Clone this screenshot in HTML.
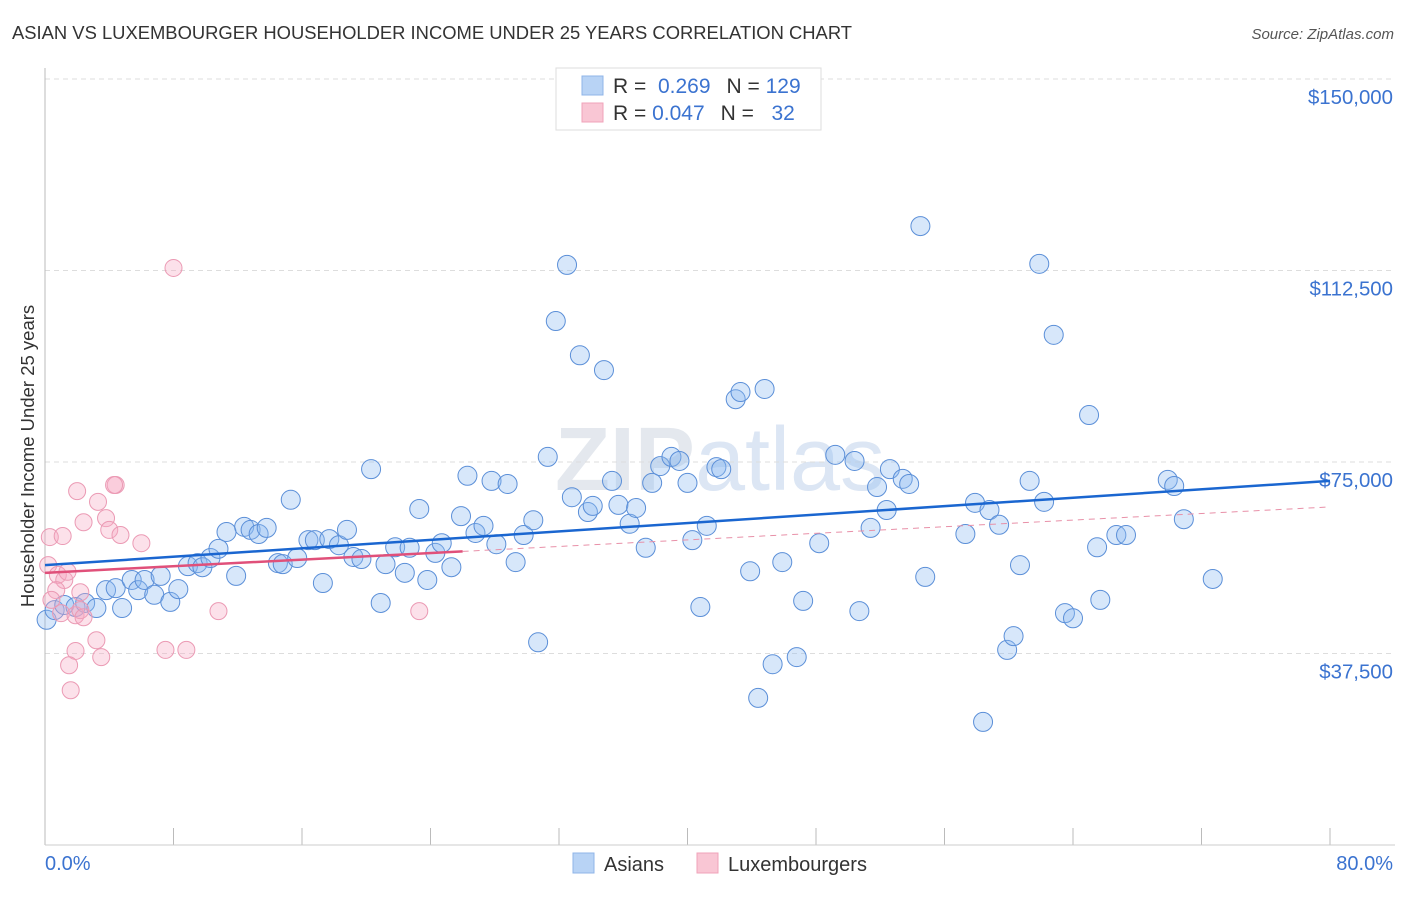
<!DOCTYPE html>
<html><head><meta charset="utf-8"><style>
body{margin:0;background:#fff;font-family:"Liberation Sans",sans-serif}
svg text{font-family:"Liberation Sans",sans-serif}
</style></head><body>
<svg id="chart" width="1406" height="892">
<text x="12" y="39" font-size="18.4" fill="#333">ASIAN VS LUXEMBOURGER HOUSEHOLDER INCOME UNDER 25 YEARS CORRELATION CHART</text>
<text x="1394" y="39" font-size="15" fill="#555" font-style="italic" text-anchor="end">Source: ZipAtlas.com</text>
<text x="720" y="490" font-size="90" fill="#e4e8ee" text-anchor="middle" font-weight="bold">ZIP<tspan font-weight="normal" fill="#dce6f4">atlas</tspan></text>
<g id="grid"></g>
<line x1="45" y1="68" x2="45" y2="845" stroke="#bbb"/>
<line x1="45" y1="845" x2="1395" y2="845" stroke="#ccc"/>
<text transform="translate(34,456) rotate(-90)" font-size="18.5" fill="#333" text-anchor="middle">Householder Income Under 25 years</text>
<text x="45" y="870" font-size="20" fill="#3b73d0">0.0%</text>
<text x="1393" y="870" font-size="20" fill="#3b73d0" text-anchor="end">80.0%</text>
<g id="marks"></g>
<g>
<rect x="556" y="68" width="265" height="62" fill="#fff" stroke="#ddd"/>
<rect x="582" y="76" width="21" height="19" fill="#b8d3f5" stroke="#8fb4e8"/>
<rect x="582" y="103" width="21" height="19" fill="#f9c6d4" stroke="#f0a3ba"/>
<text x="613" y="93" font-size="21" fill="#333">R = <tspan fill="#3b73d0">&#160;0.269</tspan><tspan dx="16">N = </tspan><tspan fill="#3b73d0">129</tspan></text>
<text x="613" y="120" font-size="21" fill="#333">R = <tspan fill="#3b73d0">0.047</tspan><tspan dx="16">N = </tspan><tspan fill="#3b73d0">&#160;&#160;32</tspan></text>
</g>
<g>
<rect x="573" y="853" width="21" height="20" fill="#b8d3f5" stroke="#8fb4e8"/>
<text x="604" y="871" font-size="20" fill="#333">Asians</text>
<rect x="697" y="853" width="21" height="20" fill="#f9c6d4" stroke="#f0a3ba"/>
<text x="728" y="871" font-size="20" fill="#333">Luxembourgers</text>
</g>
</svg>
<script>
const yTicks=[150000,112500,75000,37500];
const yTickLabels=["$150,000","$112,500","$75,000","$37,500"];
const xTicks=[0,8,16,24,32,40,48,56,64,72,80];
const asianX=[0.1,0.6,1.2,1.9,2.5,3.2,3.8,4.4,4.8,5.4,5.8,6.2,6.8,7.2,7.8,8.3,8.9,9.5,9.8,10.3,10.8,11.3,11.9,12.4,12.8,13.3,13.8,14.5,14.8,15.3,15.7,16.4,16.8,17.3,17.7,18.3,18.8,19.2,19.7,20.3,20.9,21.2,21.8,22.4,22.7,23.3,23.8,24.3,24.7,25.3,25.9,26.3,26.8,27.3,27.8,28.1,28.8,29.3,29.8,30.4,30.7,31.3,31.8,32.5,32.8,33.3,33.8,34.1,34.8,35.3,35.7,36.4,36.8,37.4,37.8,38.3,39.0,39.5,40.0,40.3,40.8,41.2,41.8,42.1,43.0,43.3,43.9,44.4,44.8,45.3,45.9,46.8,47.2,48.2,49.2,50.4,50.7,51.4,51.8,52.4,52.6,53.4,53.8,54.5,54.8,57.3,57.9,58.4,58.8,59.4,59.9,60.3,60.7,61.3,61.9,62.2,62.8,63.5,64.0,65.0,65.5,65.7,66.7,67.3,69.9,70.3,70.9,72.7];
const asianY=[44.1,46.0,47.0,46.6,47.4,46.4,49.9,50.3,46.4,51.9,49.9,51.9,49.0,52.7,47.6,50.1,54.6,55.2,54.4,56.2,58.0,61.3,52.7,62.3,61.7,60.9,62.1,55.2,55.0,67.6,56.2,59.7,59.7,51.3,59.9,58.7,61.7,56.4,56.0,73.6,47.4,55.0,58.3,53.3,58.2,65.8,51.9,57.2,59.1,54.4,64.4,72.3,61.1,62.5,71.3,58.9,70.7,55.4,60.7,63.6,39.7,76.0,102.6,113.6,68.1,95.9,65.2,66.4,93.0,71.3,66.6,62.9,66.0,58.2,70.9,74.2,76.0,75.2,70.9,59.7,46.6,62.5,74.0,73.6,87.3,88.7,53.6,28.8,89.3,35.4,55.4,36.8,47.8,59.1,76.4,75.2,45.8,62.1,70.1,65.6,73.6,71.7,70.7,121.2,52.5,60.9,67.0,24.1,65.6,62.7,38.2,40.9,54.8,71.3,113.8,67.2,99.9,45.4,44.4,84.2,58.3,48.0,60.7,60.7,71.5,70.3,63.8,52.1];
const luxX=[0.3,1.1,2.0,3.3,3.8,2.4,4.0,4.4,4.7,6.0,8.0,10.8,23.3,7.5,8.8,3.2,1.9,1.5,1.6,3.5,0.2,0.8,1.2,1.4,0.7,0.4,2.2,1.0,1.9,2.2,2.4,4.3];
const luxY=[60.3,60.5,69.3,67.2,64.0,63.2,61.7,70.5,60.7,59.1,113.0,45.8,45.8,38.2,38.2,40.1,38.0,35.2,30.3,36.8,54.8,52.9,51.9,53.5,49.9,48.0,49.5,45.4,45.0,46.0,44.6,70.5];
const asianTrend=[54.8,71.3];
const luxTrend=[53.3,66.2];
const luxSolidEnd=26;
const NS="http://www.w3.org/2000/svg";
const xs=v=>45+(v/80)*1285;
const ys=v=>845-(v/37.5)*191.5;
const ysD=v=>ys(v/1000);
function mk(tag,attrs,parent){const e=document.createElementNS(NS,tag);for(const k in attrs)e.setAttribute(k,attrs[k]);parent.appendChild(e);return e;}
const grid=document.getElementById('grid'),marks=document.getElementById('marks');
yTicks.forEach((t,i)=>{
 const l=mk('line',{x1:45,x2:1395,y1:ysD(t),y2:ysD(t),stroke:'#ddd','stroke-dasharray':'5,4'},grid);
 
 
 const tx=mk('text',{x:1393,y:ysD(t)+25,'font-size':20.4,fill:'#3b73d0','text-anchor':'end'},grid);
 tx.textContent=yTickLabels[i];
 
 
});
xTicks.forEach(t=>{
 const l=mk('line',{x1:xs(t),x2:xs(t),y1:828,y2:845,stroke:'#bbb'},grid);
 
 
});
asianX.forEach((x,i)=>{
 const c=mk('circle',{cx:xs(x),cy:ys(asianY[i]),r:9.5,fill:'rgba(140,185,240,0.35)',stroke:'#5b8fd8','stroke-width':1},marks);
 
 
});
luxX.forEach((x,i)=>{
 const c=mk('circle',{cx:xs(x),cy:ys(luxY[i]),r:8.5,fill:'rgba(245,170,195,0.35)',stroke:'#eb9ab4','stroke-width':1},marks);
 
 
});
const lt=v=>luxTrend[0]+(luxTrend[1]-luxTrend[0])*v/80;
let p=mk('line',{x1:xs(0),y1:ys(lt(0)),x2:xs(luxSolidEnd),y2:ys(lt(luxSolidEnd)),stroke:'#e0507a','stroke-width':2.5},marks);


p=mk('line',{x1:xs(luxSolidEnd),y1:ys(lt(luxSolidEnd)),x2:xs(80),y2:ys(lt(80)),stroke:'#e890a8','stroke-width':1,'stroke-dasharray':'6,5'},marks);


p=mk('line',{x1:xs(0),y1:ys(asianTrend[0]),x2:xs(80),y2:ys(asianTrend[1]),stroke:'#1a66d0','stroke-width':2.5},marks);


</script>
</body></html>
